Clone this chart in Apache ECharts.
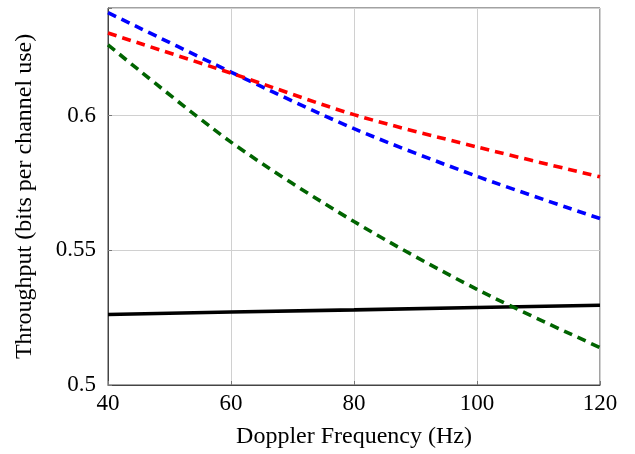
<!DOCTYPE html>
<html><head><meta charset="utf-8">
<script src="https://cdn.jsdelivr.net/npm/echarts@6/dist/echarts.min.js"></script>
<style>html,body{margin:0;padding:0;background:#fff}#c{width:635px;height:454px}</style>
</head><body><div id="c"></div>
<script>
const doppler = [40, 60, 80, 100, 120];
const seriesBlack = [0.5262, 0.5271, 0.5279, 0.5288, 0.5296];
const seriesGreen = [0.6263, 0.5902, 0.5607, 0.5355, 0.5139];
const seriesBlue  = [0.6383, 0.6162, 0.5952, 0.5775, 0.5618];
const seriesRed   = [0.6307, 0.6158, 0.6004, 0.5884, 0.5773];
const yTicks = [0.5, 0.55, 0.6];

const font = 'Liberation Serif';
const mk = (d) => doppler.map((x, i) => [x, d[i]]);
const dashed = (name, data, color) => ({
  name, type: 'line', data: mk(data), smooth: 0.3, symbol: 'none',
  lineStyle: { color, width: 3.6, type: [9, 6] }
});
const chart = echarts.init(document.getElementById('c'));
chart.setOption({
  animation: false,
  grid: { left: 108, right: 35, top: 8, bottom: 68, show: true, borderColor: '#444', borderWidth: 1 },
  xAxis: {
    type: 'value', min: 40, max: 120, interval: 20,
    name: 'Doppler Frequency (Hz)', nameLocation: 'middle', nameGap: 40,
    nameTextStyle: { fontFamily: font, fontSize: 24, color: '#000' },
    axisLine: { lineStyle: { color: '#444' } },
    axisTick: { inside: true, length: 4, lineStyle: { color: '#777' } },
    axisLabel: { fontFamily: font, fontSize: 23, color: '#000', margin: 7 },
    splitLine: { show: true, lineStyle: { color: '#d0d0d0', width: 1 } }
  },
  yAxis: {
    type: 'value', min: 0.5, max: 0.64, interval: 0.05,
    name: 'Throughput (bits per channel use)', nameLocation: 'middle', nameGap: 71,
    nameTextStyle: { fontFamily: font, fontSize: 24, color: '#000' },
    axisLine: { show: true, lineStyle: { color: '#444' } },
    axisTick: { show: true, inside: true, length: 4, lineStyle: { color: '#777' } },
    axisLabel: { fontFamily: font, fontSize: 23, color: '#000', margin: 12,
      formatter: v => yTicks.some(t => Math.abs(t - v) < 1e-9) ? String(+v.toFixed(2)) : '' },
    splitLine: { show: true, lineStyle: { color: '#d0d0d0', width: 1 } }
  },
  series: [
    { name: 'black', type: 'line', data: mk(seriesBlack), symbol: 'none', lineStyle: { color: '#000', width: 3.6 }, z: 3 },
    dashed('green', seriesGreen, '#006400'),
    dashed('blue', seriesBlue, '#0000ff'),
    dashed('red', seriesRed, '#ff0000')
  ]
});
</script></body></html>
